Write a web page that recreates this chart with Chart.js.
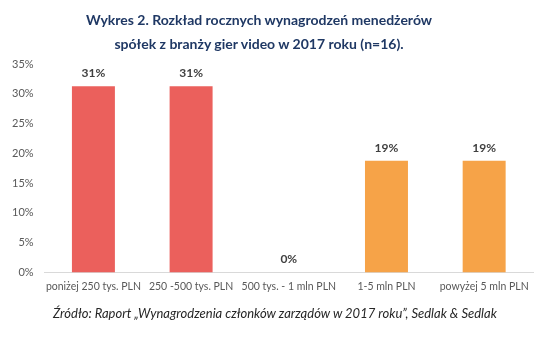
<!doctype html>
<html lang="pl">
<head>
  <meta charset="utf-8">
  <title>Wykres 2</title>
  <style>
    body { margin: 0; background: #fff; }
    #wrap { position: relative; width: 558px; height: 337px; overflow: hidden; }
    #title {
      position: absolute; left: 0; top: 8px; width: 518px;
      text-align: center; font-family: Lato, sans-serif; font-weight: bold;
      font-size: 14px; line-height: 24px; color: #1F3864;
    }
    #source {
      position: absolute; left: 53px; top: 305px;
      font-family: Lato, sans-serif; font-style: italic;
      font-size: 13px; color: #262626; white-space: nowrap;
    }
    canvas { position: absolute; left: 0; top: 0; }
  </style>
</head>
<body>
  <div id="wrap">
    <canvas id="chart" width="558" height="337"></canvas>
    <div id="title">Wykres 2. Rozkład rocznych wynagrodzeń menedżerów<br>spółek z branży gier video w 2017 roku (n=16).</div>
    <div id="source">Źródło: Raport „Wynagrodzenia członków zarządów w 2017 roku”, Sedlak &amp; Sedlak</div>
  </div>

  <script src="https://cdn.jsdelivr.net/npm/chart.js"></script>
  <script>
    const categories = ['poniżej 250 tys. PLN', '250 -500 tys. PLN', '500 tys. - 1 mln PLN', '1-5 mln PLN', 'powyżej 5 mln PLN'];
    // share of companies, n=16 (5, 5, 0, 3, 3)
    const shares = [31.25, 31.25, 0, 18.75, 18.75];
    const barColors = ['#EB605C', '#EB605C', '#EB605C', '#F6A348', '#F6A348'];

    // percentage labels above each bar
    const valueLabels = {
      id: 'valueLabels',
      afterDatasetsDraw(chart) {
        const ctx = chart.ctx;
        const meta = chart.getDatasetMeta(0);
        ctx.save();
        ctx.font = 'bold 12px Lato, sans-serif';
        ctx.fillStyle = '#404040';
        ctx.textAlign = 'center';
        ctx.textBaseline = 'bottom';
        meta.data.forEach((bar, i) => {
          ctx.fillText(Math.round(shares[i]) + '%', bar.x, bar.y - 7);
        });
        ctx.restore();
      }
    };

    new Chart(document.getElementById('chart'), {
      type: 'bar',
      data: {
        labels: categories,
        datasets: [{
          data: shares,
          backgroundColor: barColors,
          barPercentage: 0.44,
          categoryPercentage: 1
        }]
      },
      options: {
        responsive: false,
        animation: false,
        layout: { padding: { top: 64, left: 1, right: 25, bottom: 36 } },
        scales: {
          y: {
            min: 0, max: 35,
            grid: { display: false, drawTicks: false },
            border: { display: false },
            ticks: {
              stepSize: 5, padding: 11, color: '#595959',
              font: { family: 'Lato', size: 11 },
              callback: v => v + '%'
            }
          },
          x: {
            grid: { display: false, drawTicks: false },
            border: { color: '#D9D9D9', width: 1 },
            ticks: {
              color: '#595959', maxRotation: 0, autoSkip: false, padding: 8,
              font: { family: 'Lato', size: 10.5 }
            }
          }
        },
        plugins: {
          legend: { display: false },
          tooltip: { enabled: false }
        }
      },
      plugins: [valueLabels]
    });
  </script>
</body>
</html>
